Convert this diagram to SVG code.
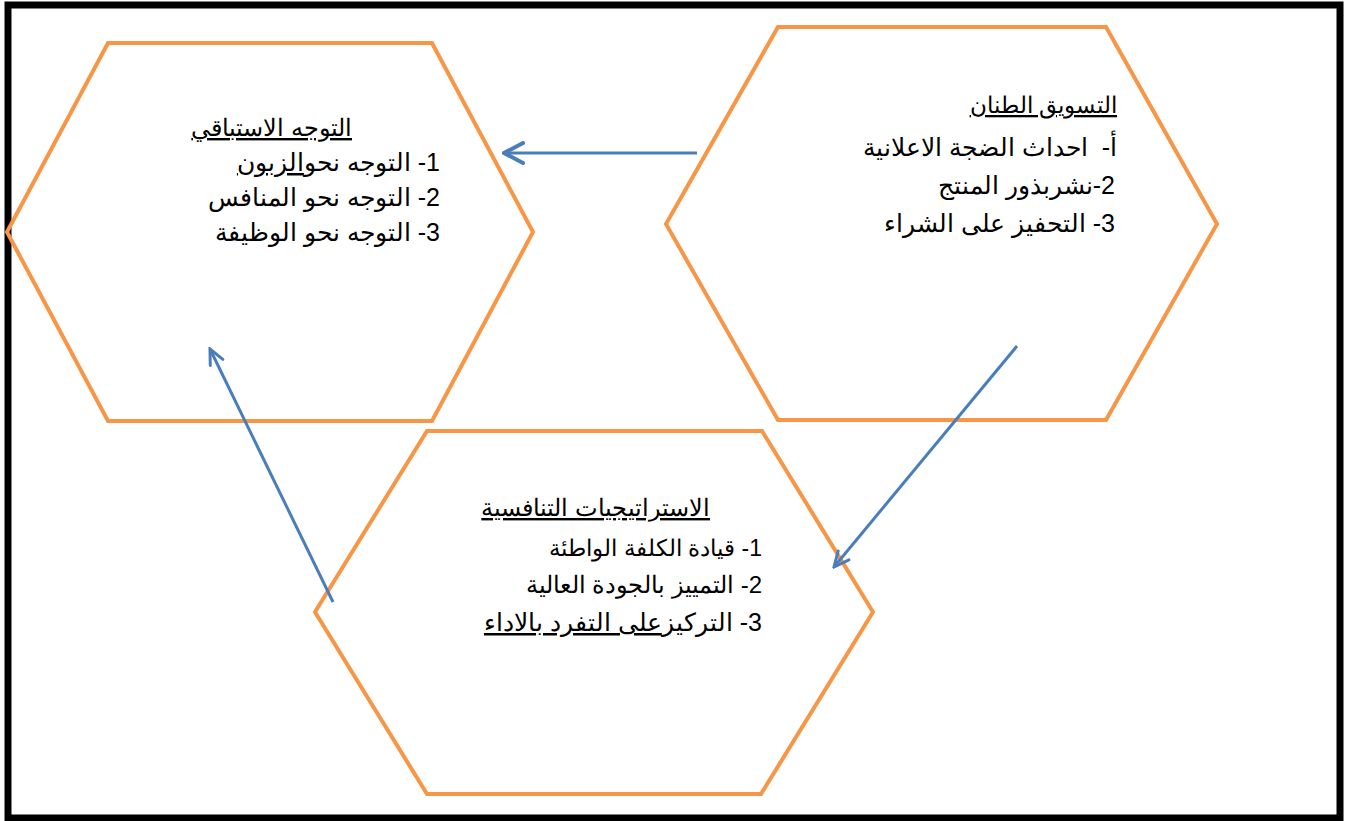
<svg xmlns="http://www.w3.org/2000/svg" width="1346" height="821" viewBox="0 0 1346 821">
<style>
.hex{fill:none;stroke:#F79646;stroke-width:4;stroke-linejoin:miter}
.t{font-family:"Liberation Sans",Arial,"Noto Sans",sans-serif;font-size:25px;fill:#000;direction:rtl;unicode-bidi:embed;text-anchor:start}
.h{font-size:24px}
.u{text-decoration:underline}
.c{fill:none;stroke:#4A7EBB;stroke-width:3}
</style>
<defs>
<marker id="ah1" viewBox="0 0 24 24" refX="22" refY="12" markerWidth="24" markerHeight="24" orient="auto" markerUnits="userSpaceOnUse">
<path d="M3,2 L22,12 L3,22" fill="none" stroke="#4A7EBB" stroke-width="4" stroke-linecap="round" stroke-linejoin="miter"/>
</marker>
<marker id="ah2" viewBox="0 0 20 20" refX="18" refY="10" markerWidth="20" markerHeight="20" orient="auto" markerUnits="userSpaceOnUse">
<path d="M3,3 L18,10 L3,17" fill="none" stroke="#4A7EBB" stroke-width="3" stroke-linecap="round"/>
</marker>
</defs>
<rect x="8" y="5" width="1332" height="813" fill="#fff" stroke="#000" stroke-width="7"/>
<g id="node-proactive">
<polygon class="hex" points="108,43 432,43 533,232 432,421 108,421 7,232"/>
<text class="t h" x="352" y="136"><tspan class="u">التوجه الاستباقي</tspan></text>
<text class="t" x="440" y="171">1- التوجه نحو<tspan class="u">الزبون</tspan></text>
<text class="t" x="440" y="206">2- التوجه نحو المنافس</text>
<text class="t" x="440" y="241">3- التوجه نحو الوظيفة</text>
</g>
<g id="node-marketing">
<polygon class="hex" points="778,27 1106,27 1217,224 1106,420 778,420 666,224"/>
<text class="t" x="1117" y="113" style="font-size:23px"><tspan class="u">التسويق الطنان</tspan></text>
<text class="t" x="1117" y="156" xml:space="preserve">أ-  احداث الضجة الاعلانية</text>
<text class="t" x="1115" y="194">2-نشربذور المنتج</text>
<text class="t" x="1115" y="232">3- التحفيز على الشراء</text>
</g>
<g id="node-strategies">
<polygon class="hex" points="427,431 762,431 873,612 761,794 427,794 315,612"/>
<text class="t h" x="710" y="516"><tspan class="u">الاستراتيجيات التنافسية</tspan></text>
<text class="t" x="762" y="556" style="font-size:23px">1- قيادة الكلفة الواطئة</text>
<text class="t h" x="762" y="593">2- التمييز بالجودة العالية</text>
<text class="t" x="762" y="631">3- التركيز<tspan class="u">على التفرد بالاداء</tspan></text>
</g>
<g id="connectors">
<line class="c" x1="697" y1="153" x2="504" y2="153" stroke-width="4" marker-end="url(#ah1)"/>
<line class="c" x1="1017" y1="346" x2="834" y2="567" stroke-width="2.5" marker-end="url(#ah2)"/>
<line class="c" x1="333" y1="602" x2="210" y2="349" stroke-width="2.5" marker-end="url(#ah2)"/>
</g>
</svg>
